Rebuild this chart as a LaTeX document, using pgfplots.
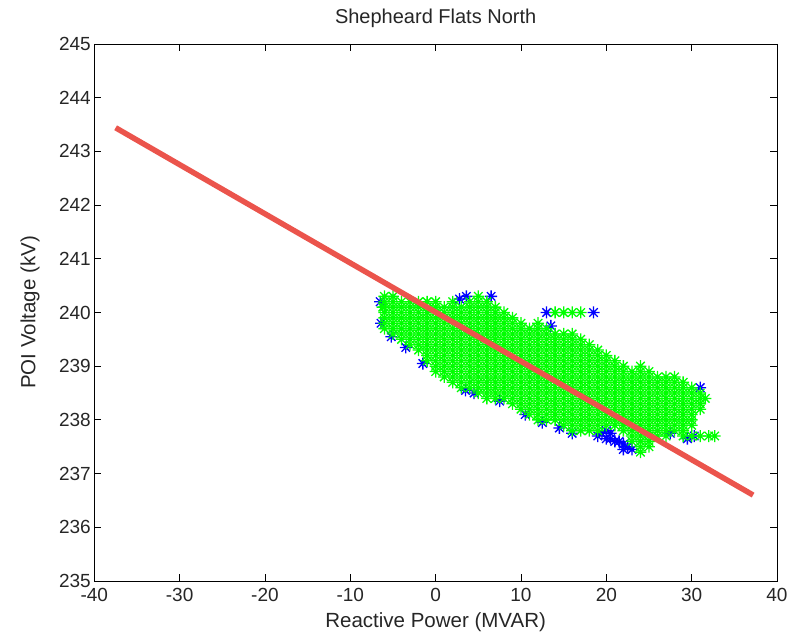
\documentclass[border=0pt]{standalone}
\usepackage{fontspec}
\setmainfont{Liberation Sans}
\usepackage{pgfplots}
\pgfplotsset{compat=1.18}

\definecolor{fitred}{RGB}{235,84,76}
\definecolor{ptgreen}{RGB}{0,255,0}
\definecolor{ptblue}{RGB}{0,0,255}

% matlab style '*' marker (plus and cross)
\pgfdeclareplotmark{mstar}{%
  \pgfpathmoveto{\pgfqpoint{-\pgfplotmarksize}{0pt}}%
  \pgfpathlineto{\pgfqpoint{\pgfplotmarksize}{0pt}}%
  \pgfpathmoveto{\pgfqpoint{0pt}{-\pgfplotmarksize}}%
  \pgfpathlineto{\pgfqpoint{0pt}{\pgfplotmarksize}}%
  \pgfpathmoveto{\pgfqpoint{-0.7071\pgfplotmarksize}{-0.7071\pgfplotmarksize}}%
  \pgfpathlineto{\pgfqpoint{0.7071\pgfplotmarksize}{0.7071\pgfplotmarksize}}%
  \pgfpathmoveto{\pgfqpoint{-0.7071\pgfplotmarksize}{0.7071\pgfplotmarksize}}%
  \pgfpathlineto{\pgfqpoint{0.7071\pgfplotmarksize}{-0.7071\pgfplotmarksize}}%
  \pgfusepathqstroke}

\begin{document}
\begin{tikzpicture}
\begin{axis}[
    scale only axis,
    width=682.7pt, height=537pt,
    xmin=-40, xmax=40,
    ymin=235, ymax=245,
    clip mode=individual,
    xtick={-40,-30,-20,-10,0,10,20,30,40},
    xticklabels={-40,-30,-20,-10,0,10,20,30,40},
    ytick={235,236,237,238,239,240,241,242,243,244,245},
    yticklabels={235,236,237,238,239,240,241,242,243,244,245},
    tick align=inside,
    xtick pos=both, ytick pos=both,
    major tick length=7pt,
    tick style={black, line width=0.8pt},
    axis line style={line width=0.8pt},
    ticklabel style={font=\fontsize{19}{22}\selectfont, text=black!85},
    xticklabel style={yshift=-4pt},
    every axis title shift=0pt,
    title={Shepheard Flats North},
    title style={font=\fontsize{20}{24}\selectfont, text=black!85,
        at={(axis description cs:0.5,1.047)}, anchor=center},
    xlabel={Reactive Power (MVAR)},
    ylabel={POI Voltage (kV)},
    label style={font=\fontsize{20.5}{24}\selectfont, text=black!85},
    xlabel style={at={(axis description cs:0.5,-0.0764)}, anchor=center},
    ylabel style={at={(axis description cs:-0.094,0.5)}, anchor=center},
]

% blue points, mostly hidden under the green ones
\addplot[only marks, mark=mstar, mark size=6pt, color=ptblue, line width=1.3pt]
    coordinates {
    (-6.5,240.2)(-6.4,239.8)(-5.2,239.55)(-3.5,239.35)(-1.5,239.05)
    (2.8,240.25)(3.6,240.3)(6.5,240.3)
    (3.5,238.55)(4.5,238.5)(7.5,238.35)
    (10.5,238.1)(12.5,237.95)(14.5,237.85)(16,237.75)
    (19,237.7)(19.5,237.75)(20,237.65)(20,237.8)(20.5,237.75)(20.5,237.65)(21,237.6)
    (21.5,237.6)(22,237.55)(22,237.45)(22.5,237.5)(23,237.45)
    (27.5,237.75)(29.5,237.65)(30.3,237.7)
    (13,240.0)(18.5,240.0)(13.5,239.75)(31,238.6)
    };

% green points
\addplot[only marks, mark=mstar, mark size=6pt, color=ptgreen, line width=1.3pt]
    coordinates {
    (-6.2,240.1)
    (-6,239.7)(-6,239.8)(-6,239.9)(-6,240.0)(-6,240.1)(-6,240.2)(-6,240.3)
    (-5,239.6)(-5,239.7)(-5,239.8)(-5,239.9)(-5,240.0)(-5,240.1)(-5,240.2)(-5,240.3)
    (-4,239.5)(-4,239.6)(-4,239.7)(-4,239.8)(-4,239.9)(-4,240.0)(-4,240.1)(-4,240.2)
    (-3,239.4)(-3,239.5)(-3,239.6)(-3,239.7)(-3,239.8)(-3,239.9)(-3,240.0)(-3,240.1)(-3,240.2)
    (-2,239.3)(-2,239.4)(-2,239.5)(-2,239.6)(-2,239.7)(-2,239.8)(-2,239.9)(-2,240.0)(-2,240.1)(-2,240.2)
    (-1,239.1)(-1,239.2)(-1,239.3)(-1,239.4)(-1,239.5)(-1,239.6)(-1,239.7)(-1,239.8)(-1,239.9)(-1,240.0)(-1,240.1)(-1,240.2)
    (0,238.9)(0,239.0)(0,239.1)(0,239.2)(0,239.3)(0,239.4)(0,239.5)(0,239.6)(0,239.7)(0,239.8)(0,239.9)(0,240.0)(0,240.1)(0,240.2)
    (1,238.8)(1,238.9)(1,239.0)(1,239.1)(1,239.2)(1,239.3)(1,239.4)(1,239.5)(1,239.6)(1,239.7)(1,239.8)(1,239.9)(1,240.0)(1,240.1)
    (2,238.7)(2,238.8)(2,238.9)(2,239.0)(2,239.1)(2,239.2)(2,239.3)(2,239.4)(2,239.5)(2,239.6)(2,239.7)(2,239.8)(2,239.9)(2,240.0)(2,240.1)(2,240.2)
    (3,238.6)(3,238.7)(3,238.8)(3,238.9)(3,239.0)(3,239.1)(3,239.2)(3,239.3)(3,239.4)(3,239.5)(3,239.6)(3,239.7)(3,239.8)(3,239.9)(3,240.0)(3,240.1)
    (4,238.6)(4,238.7)(4,238.8)(4,238.9)(4,239.0)(4,239.1)(4,239.2)(4,239.3)(4,239.4)(4,239.5)(4,239.6)(4,239.7)(4,239.8)(4,239.9)(4,240.0)(4,240.1)(4,240.2)
    (5,238.5)(5,238.6)(5,238.7)(5,238.8)(5,238.9)(5,239.0)(5,239.1)(5,239.2)(5,239.3)(5,239.4)(5,239.5)(5,239.6)(5,239.7)(5,239.8)(5,239.9)(5,240.0)(5,240.1)(5,240.2)(5,240.3)
    (6,238.4)(6,238.5)(6,238.6)(6,238.7)(6,238.8)(6,238.9)(6,239.0)(6,239.1)(6,239.2)(6,239.3)(6,239.4)(6,239.5)(6,239.6)(6,239.7)(6,239.8)(6,239.9)(6,240.0)(6,240.1)(6,240.2)
    (7,238.4)(7,238.5)(7,238.6)(7,238.7)(7,238.8)(7,238.9)(7,239.0)(7,239.1)(7,239.2)(7,239.3)(7,239.4)(7,239.5)(7,239.6)(7,239.7)(7,239.8)(7,239.9)(7,240.0)(7,240.1)
    (8,238.4)(8,238.5)(8,238.6)(8,238.7)(8,238.8)(8,238.9)(8,239.0)(8,239.1)(8,239.2)(8,239.3)(8,239.4)(8,239.5)(8,239.6)(8,239.7)(8,239.8)(8,239.9)(8,240.0)
    (9,238.3)(9,238.4)(9,238.5)(9,238.6)(9,238.7)(9,238.8)(9,238.9)(9,239.0)(9,239.1)(9,239.2)(9,239.3)(9,239.4)(9,239.5)(9,239.6)(9,239.7)(9,239.8)(9,239.9)
    (10,238.2)(10,238.3)(10,238.4)(10,238.5)(10,238.6)(10,238.7)(10,238.8)(10,238.9)(10,239.0)(10,239.1)(10,239.2)(10,239.3)(10,239.4)(10,239.5)(10,239.6)(10,239.7)(10,239.8)
    (11,238.1)(11,238.2)(11,238.3)(11,238.4)(11,238.5)(11,238.6)(11,238.7)(11,238.8)(11,238.9)(11,239.0)(11,239.1)(11,239.2)(11,239.3)(11,239.4)(11,239.5)(11,239.6)(11,239.7)
    (12,238.0)(12,238.1)(12,238.2)(12,238.3)(12,238.4)(12,238.5)(12,238.6)(12,238.7)(12,238.8)(12,238.9)(12,239.0)(12,239.1)(12,239.2)(12,239.3)(12,239.4)(12,239.5)(12,239.6)(12,239.7)(12,239.8)
    (13,238.0)(13,238.1)(13,238.2)(13,238.3)(13,238.4)(13,238.5)(13,238.6)(13,238.7)(13,238.8)(13,238.9)(13,239.0)(13,239.1)(13,239.2)(13,239.3)(13,239.4)(13,239.5)(13,239.6)(13,239.7)
    (14,238.0)(14,238.1)(14,238.2)(14,238.3)(14,238.4)(14,238.5)(14,238.6)(14,238.7)(14,238.8)(14,238.9)(14,239.0)(14,239.1)(14,239.2)(14,239.3)(14,239.4)(14,239.5)(14,239.6)
    (15,237.9)(15,238.0)(15,238.1)(15,238.2)(15,238.3)(15,238.4)(15,238.5)(15,238.6)(15,238.7)(15,238.8)(15,238.9)(15,239.0)(15,239.1)(15,239.2)(15,239.3)(15,239.4)(15,239.5)(15,239.6)
    (16,237.8)(16,237.9)(16,238.0)(16,238.1)(16,238.2)(16,238.3)(16,238.4)(16,238.5)(16,238.6)(16,238.7)(16,238.8)(16,238.9)(16,239.0)(16,239.1)(16,239.2)(16,239.3)(16,239.4)(16,239.5)(16,239.6)
    (17,237.8)(17,237.9)(17,238.0)(17,238.1)(17,238.2)(17,238.3)(17,238.4)(17,238.5)(17,238.6)(17,238.7)(17,238.8)(17,238.9)(17,239.0)(17,239.1)(17,239.2)(17,239.3)(17,239.4)(17,239.5)
    (18,237.8)(18,237.9)(18,238.0)(18,238.1)(18,238.2)(18,238.3)(18,238.4)(18,238.5)(18,238.6)(18,238.7)(18,238.8)(18,238.9)(18,239.0)(18,239.1)(18,239.2)(18,239.3)(18,239.4)
    (19,237.8)(19,237.9)(19,238.0)(19,238.1)(19,238.2)(19,238.3)(19,238.4)(19,238.5)(19,238.6)(19,238.7)(19,238.8)(19,238.9)(19,239.0)(19,239.1)(19,239.2)(19,239.3)
    (20,237.9)(20,238.0)(20,238.1)(20,238.2)(20,238.3)(20,238.4)(20,238.5)(20,238.6)(20,238.7)(20,238.8)(20,238.9)(20,239.0)(20,239.1)(20,239.2)
    (21,237.9)(21,238.0)(21,238.1)(21,238.2)(21,238.3)(21,238.4)(21,238.5)(21,238.6)(21,238.7)(21,238.8)(21,238.9)(21,239.0)(21,239.1)
    (22,237.8)(22,237.9)(22,238.0)(22,238.1)(22,238.2)(22,238.3)(22,238.4)(22,238.5)(22,238.6)(22,238.7)(22,238.8)(22,238.9)(22,239.0)
    (23,237.6)(23,237.7)(23,237.8)(23,237.9)(23,238.0)(23,238.1)(23,238.2)(23,238.3)(23,238.4)(23,238.5)(23,238.6)(23,238.7)(23,238.8)(23,238.9)
    (24,237.4)(24,237.5)(24,237.6)(24,237.7)(24,237.8)(24,237.9)(24,238.0)(24,238.1)(24,238.2)(24,238.3)(24,238.4)(24,238.5)(24,238.6)(24,238.7)(24,238.8)(24,238.9)(24,239.0)
    (25,237.5)(25,237.6)(25,237.7)(25,237.8)(25,237.9)(25,238.0)(25,238.1)(25,238.2)(25,238.3)(25,238.4)(25,238.5)(25,238.6)(25,238.7)(25,238.8)(25,238.9)
    (26,237.7)(26,237.8)(26,237.9)(26,238.0)(26,238.1)(26,238.2)(26,238.3)(26,238.4)(26,238.5)(26,238.6)(26,238.7)(26,238.8)
    (27,237.7)(27,237.8)(27,237.9)(27,238.0)(27,238.1)(27,238.2)(27,238.3)(27,238.4)(27,238.5)(27,238.6)(27,238.7)(27,238.8)
    (28,237.8)(28,237.9)(28,238.0)(28,238.1)(28,238.2)(28,238.3)(28,238.4)(28,238.5)(28,238.6)(28,238.7)(28,238.8)
    (29,237.7)(29,237.8)(29,237.9)(29,238.0)(29,238.1)(29,238.2)(29,238.3)(29,238.4)(29,238.5)(29,238.6)(29,238.7)
    (30,237.7)(30,237.9)(30,238.0)(30,238.1)(30,238.2)(30,238.3)(30,238.4)(30,238.5)(30,238.6)
    (31,237.7)(31,238.2)(31,238.3)(31,238.4)(31,238.5)(31.6,238.4)
    (32,237.7)(32.7,237.7)
    (14,240.0)(15,240.0)(16,240.0)(17,240.0)
    };

% fitted line
\addplot[color=fitred, line width=5.5pt] coordinates {(-37.5,243.44) (37.2,236.6)};

\end{axis}
\pgfresetboundingbox
\path (current axis.south west) ++(-94.3pt,-55pt) rectangle ++(802pt,636pt);
\end{tikzpicture}
\end{document}
